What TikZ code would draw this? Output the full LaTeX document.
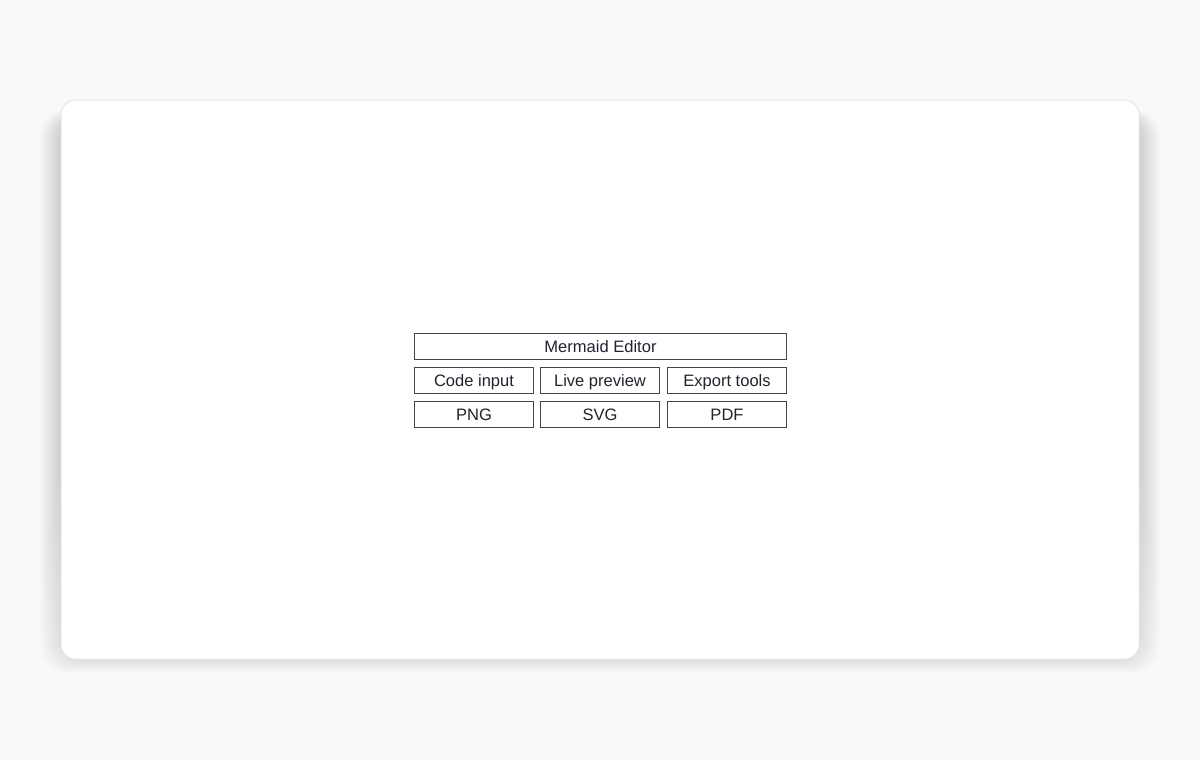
\documentclass[tikz,border=0pt]{standalone}
\usepackage{fontspec}
\setmainfont{Liberation Sans}
\definecolor{pagebg}{HTML}{F8F9FA}
\definecolor{cardline}{HTML}{E5E7EB}
\definecolor{boxline}{HTML}{444444}
\definecolor{txt}{HTML}{1F2430}
\definecolor{shade}{HTML}{8A93A3}
\begin{document}
\begin{tikzpicture}[x=0.75pt,y=-0.75pt,
  cell/.style={draw=boxline,line width=0.75pt,fill=white,text=txt,font=\fontsize{12.4}{14}\selectfont,minimum height=19.5pt,text height=8.9pt,text depth=0pt,inner sep=0pt,anchor=north west}]
\useasboundingbox (0,0) rectangle (1200,760);
\fill[pagebg] (0,0) rectangle (1200,760);
% shadow (clipped band)
\begin{scope}
\clip (40,90) rectangle (1160,673);
\foreach \i in {1,...,14}{
  \fill[shade,opacity=0.007,rounded corners=20pt] (61-1.5*\i,100-0.3*\i+14) rectangle (1139+1.5*\i,659+\i);
}
\end{scope}
% card
\draw[cardline,fill=white,line width=0.75pt,rounded corners=10.5pt] (61,100) rectangle (1139,659);
% boxes
\node[cell,minimum width=279pt] (editor) at (414,333) {Mermaid Editor};
\node[cell,minimum width=89.25pt] (code) at (414,367) {Code input};
\node[cell,minimum width=89.25pt] (live) at (540,367) {Live preview};
\node[cell,minimum width=89.25pt] (export) at (667,367) {Export tools};
\node[cell,minimum width=89.25pt] (png) at (414,401) {PNG};
\node[cell,minimum width=89.25pt] (svg) at (540,401) {SVG};
\node[cell,minimum width=89.25pt] (pdf) at (667,401) {PDF};
\end{tikzpicture}
\end{document}
